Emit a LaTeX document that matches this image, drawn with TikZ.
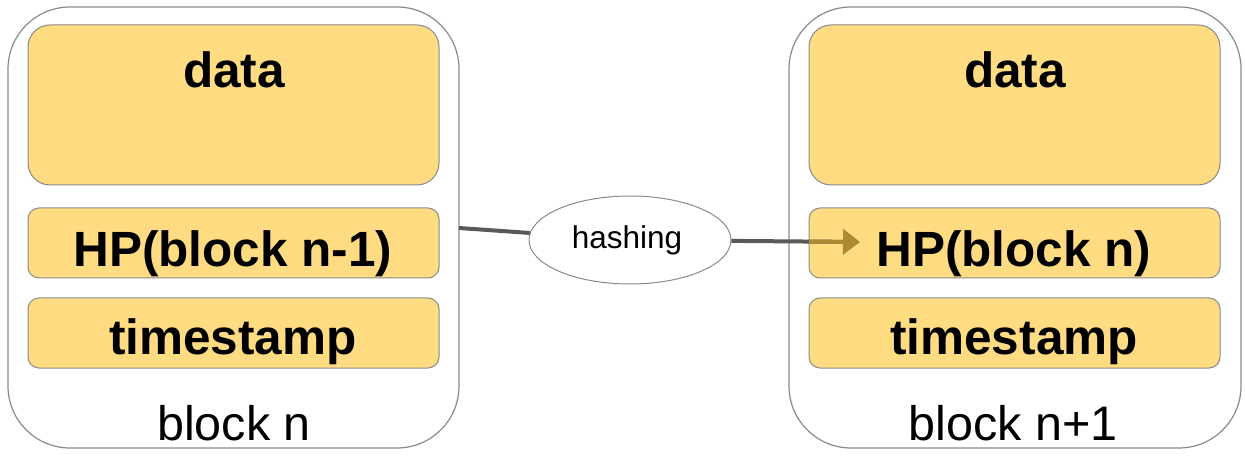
\documentclass[tikz,border=0pt]{standalone}
\usepackage{fontspec}
\setmainfont{Liberation Sans}
\usetikzlibrary{arrows.meta,shapes.geometric}
\definecolor{boxyellow}{HTML}{FFDB82}
\definecolor{edgegray}{HTML}{8A8A8A}
\definecolor{linegray}{HTML}{595959}
\definecolor{olivearrow}{HTML}{AA8A32}
\tikzset{
  outerbox/.style={draw=edgegray, line width=1.2pt, rounded corners=62pt, fill=white},
  bigfield/.style={draw=edgegray, line width=1pt, rounded corners=22pt, fill=boxyellow},
  field/.style={draw=edgegray, line width=1pt, rounded corners=11pt, fill=boxyellow},
  fieldtext/.style={anchor=base, inner sep=0pt, font=\fontsize{49.5}{58}\selectfont\bfseries},
  labeltext/.style={anchor=base, inner sep=0pt, font=\fontsize{48.5}{58}\selectfont},
  conn/.style={draw=linegray, line width=4pt},
}
\begin{document}
\begin{tikzpicture}[x=1pt,y=-1pt]
\useasboundingbox (0,0) rectangle (1245,462);
% left block
\draw[outerbox] (8,7) rectangle (459,448);
\draw[bigfield] (28,25) rectangle (439,185);
\draw[field] (28,208) rectangle (439,278);
\draw[field] (28,298) rectangle (439,368);
\node[fieldtext] (d1) at (234,88) {data};
\node[fieldtext] (hp1) at (233,267) {HP(block n-1)};
\node[fieldtext] (ts1) at (233,355) {timestamp};
\node[labeltext] (lab1) at (234,440) {block n};
% right block
\draw[outerbox] (789,7) rectangle (1241,448);
\draw[bigfield] (809,25) rectangle (1220,185);
\draw[field] (809,208) rectangle (1220,278);
\draw[field] (809,298) rectangle (1220,368);
\node[fieldtext] (d2) at (1015,88) {data};
\node[fieldtext] (hp2) at (1014,267) {HP(block n)};
\node[fieldtext] (ts2) at (1014,355) {timestamp};
\node[labeltext] (lab2) at (1013,440) {block n+1};
% hashing
\node[draw=edgegray, line width=1pt, ellipse, minimum width=202pt, minimum height=88pt, inner sep=0pt, fill=white] (hash) at (630,240) {};
\node[anchor=base, inner sep=0pt, font=\fontsize{31.5}{36}\selectfont] (hashtxt) at (627,249) {hashing};
\coordinate (src) at (459,228);
\coordinate (tip) at (860,242);
\draw[conn] (src) -- (hash);
\draw[conn, shorten >=17pt] (hash) -- (tip);
\begin{scope}
  \clip[rounded corners=11pt] (809,208) rectangle (1220,278);
  \draw[draw=olivearrow, fill=olivearrow, line width=4pt, -{Triangle[length=17pt,width=25pt]}] (hash) -- (tip);
\end{scope}
\end{tikzpicture}
\end{document}
